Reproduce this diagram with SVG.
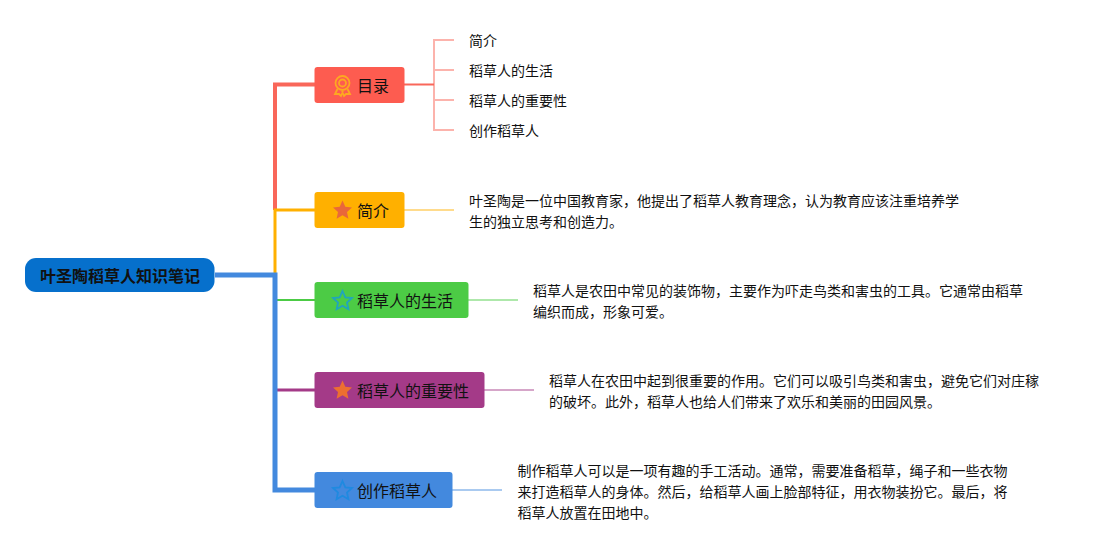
<svg xmlns="http://www.w3.org/2000/svg" width="1109" height="550" viewBox="0 0 1109 550">
<style>
text{font-family:"Noto Sans CJK SC","Noto Sans",sans-serif;fill:#111}
.t{font-size:14px}
.n{font-size:16px}
.c{fill:none;stroke-linejoin:miter}
.b{stroke-width:2;stroke-opacity:.45}
.node{stroke:none}
</style>
<rect width="1109" height="550" fill="#fff"/>
<g id="connectors">
<path class="c" d="M275 210V84.500H315" stroke="#f9675a" stroke-width="4"/>
<path class="c" d="M275 275V210H315" stroke="#ffb000" stroke-width="3"/>
<path class="c" d="M275 275V300H315" stroke="#4ccb45" stroke-width="2"/>
<path class="c" d="M275 300V390H315" stroke="#a43a88" stroke-width="3"/>
<path class="c" d="M215 275H275V490H315" stroke="#4389de" stroke-width="5"/>
<path class="c" d="M404 84.500H434" stroke="#f9675a" stroke-width="2"/>
<path class="c" d="M454 40H434V130H454M434 70H454M434 100H454" stroke="#f9675a" stroke-width="2" stroke-opacity=".5"/>
<path class="c b" d="M404 210H454" stroke="#ffb000"/>
<path class="c b" d="M468 300H518" stroke="#4ccb45"/>
<path class="c b" d="M484 390H534" stroke="#a43a88"/>
<path class="c b" d="M452 490H502" stroke="#4389de"/>
</g>
<g id="root"><rect x="25" y="258" width="189.500" height="34" rx="11" fill="#0670cc"/><text x="120" y="281.500" text-anchor="middle" font-size="16" font-weight="700">叶圣陶稻草人知识笔记</text></g>
<g id="n1"><rect x="314.500" y="67" width="90" height="36" rx="3" fill="#fd5c50"/>
<circle cx="342.500" cy="83" r="7" fill="none" stroke="#fda821" stroke-width="1.800"/><circle cx="342.500" cy="83" r="3.500" fill="none" stroke="#fda821" stroke-width="1.800"/><path d="M337.500 89L335 94L339 94L341 96L343 91M347.500 89L350 94L346 94L344 96L342 91" fill="none" stroke="#fda821" stroke-width="1.800"/>
<text class="n" x="357" y="92">目录</text></g>
<g id="n2"><rect x="314.500" y="192" width="90" height="36" rx="3" fill="#ffb000"/>
<path d="M342.500 200.500l2.800 6.300 6.700.7-5 4.500 1.400 6.700-5.900-3.400-5.900 3.400 1.400-6.700-5-4.500 6.700-.7z" fill="#e9683a"/>
<text class="n" x="357" y="217">简介</text></g>
<g id="n3"><rect x="314.500" y="282" width="154" height="36" rx="3" fill="#4ccb45"/>
<path d="M342.500 291l2.800 6.300 6.700.7-5 4.500 1.400 6.700-5.900-3.400-5.900 3.400 1.400-6.700-5-4.500 6.700-.7z" fill="none" stroke="#20a5bd" stroke-width="1.800"/>
<text class="n" x="357" y="307">稻草人的生活</text></g>
<g id="n4"><rect x="314.500" y="372" width="170" height="36" rx="3" fill="#a43a88"/>
<path d="M342.500 380.500l2.800 6.300 6.700.7-5 4.500 1.400 6.700-5.900-3.400-5.900 3.400 1.400-6.700-5-4.500 6.700-.7z" fill="#ec6f30"/>
<text class="n" x="357" y="397">稻草人的重要性</text></g>
<g id="n5"><rect x="314.500" y="472" width="138" height="36" rx="3" fill="#4389de"/>
<path d="M342.500 481l2.800 6.300 6.700.7-5 4.500 1.400 6.700-5.900-3.400-5.900 3.400 1.400-6.700-5-4.500 6.700-.7z" fill="none" stroke="#1f8ae0" stroke-width="1.800"/>
<text class="n" x="357" y="497">创作稻草人</text></g>
<g id="l1"><text class="t" x="469" y="46">简介</text></g>
<g id="l2"><text class="t" x="469" y="76">稻草人的生活</text></g>
<g id="l3"><text class="t" x="469" y="106">稻草人的重要性</text></g>
<g id="l4"><text class="t" x="469" y="136">创作稻草人</text></g>
<g id="d1"><text class="t" x="469" y="206">叶圣陶是一位中国教育家，他提出了稻草人教育理念，认为教育应该注重培养学</text><text class="t" x="469" y="227">生的独立思考和创造力。</text></g>
<g id="d2"><text class="t" x="533" y="296">稻草人是农田中常见的装饰物，主要作为吓走鸟类和害虫的工具。它通常由稻草</text><text class="t" x="533" y="317">编织而成，形象可爱。</text></g>
<g id="d3"><text class="t" x="549" y="386">稻草人在农田中起到很重要的作用。它们可以吸引鸟类和害虫，避免它们对庄稼</text><text class="t" x="549" y="407">的破坏。此外，稻草人也给人们带来了欢乐和美丽的田园风景。</text></g>
<g id="d4"><text class="t" x="517.500" y="476">制作稻草人可以是一项有趣的手工活动。通常，需要准备稻草，绳子和一些衣物</text><text class="t" x="517.500" y="497">来打造稻草人的身体。然后，给稻草人画上脸部特征，用衣物装扮它。最后，将</text><text class="t" x="517.500" y="518">稻草人放置在田地中。</text></g>
</svg>
